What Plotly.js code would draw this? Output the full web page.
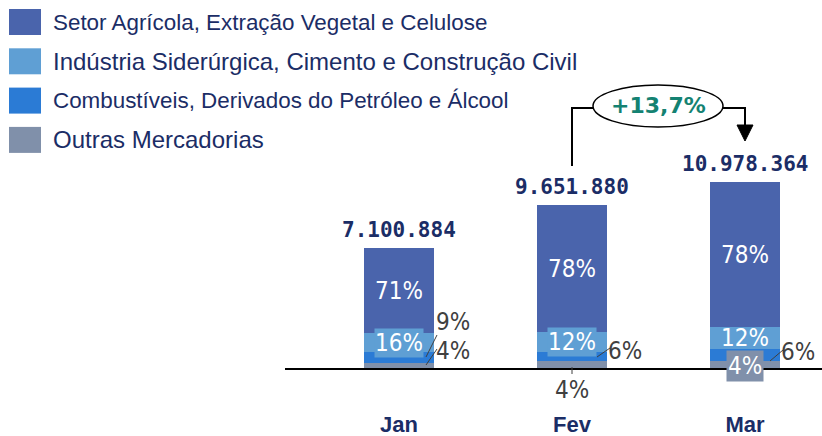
<!DOCTYPE html>
<html>
<head>
<meta charset="utf-8">
<script src="https://cdn.plot.ly/plotly-3.0.1.min.js"></script>
<style>html,body{margin:0;padding:0;background:#fff;}#chart{width:822px;height:436px;}</style>
</head>
<body>
<div id="chart"></div>
<script>
// ---- data ----
const categories = ['Jan', 'Fev', 'Mar'];
const totals = [7100884, 9651880, 10978364];
const totalLabels = ['7.100.884', '9.651.880', '10.978.364'];
const pctOutras = [4, 4, 4];
const pctCombustiveis = [9, 6, 6];
const pctIndustria = [16, 12, 12];
const pctAgricola = [71, 78, 78];
const seriesNames = [
  'Setor Agrícola, Extração Vegetal e Celulose',
  'Indústria Siderúrgica, Cimento e Construção Civil',
  'Combustíveis, Derivados do Petróleo e Álcool',
  'Outras Mercadorias'
];
const growthLabel = '+13,7%';

// ---- styles ----
const colors = {
  agro: '#4A64AC', ind: '#5F9FD4', comb: '#2B7BD5', outras: '#8090AA'
};
const navy = '#1B2D66';
const gray = '#404040';
const L = 285, W = 537, B = 368, H = 368; // plot area in px (top at 0)
const xp = px => (px - L) / W;
const yp = py => (B - py) / H;
const pxPerUnit = 16.9 / 1e6;

const seg = pct => totals.map((t, i) => t * pct[i] / 100);
const vOut = seg(pctOutras), vComb = seg(pctCombustiveis), vInd = seg(pctIndustria), vAgro = seg(pctAgricola);

const mkBar = (name, vals, color) => ({
  type: 'bar', x: categories, y: vals, name: name, width: 0.405,
  marker: {color: color, line: {width: 0}}, hoverinfo: 'skip', showlegend: false
});
const traces = [
  mkBar(seriesNames[3], vOut, colors.outras),
  mkBar(seriesNames[2], vComb, colors.comb),
  mkBar(seriesNames[1], vInd, colors.ind),
  mkBar(seriesNames[0], vAgro, colors.agro)
];

const pctFont = (c) => ({family: '"Liberation Sans Narrow", "DejaVu Sans Condensed", "Open Sans", sans-serif', size: 24, color: c});
const annotations = [];
const shapes = [];

// total labels
categories.forEach((c, i) => {
  annotations.push({x: c, y: totals[i], xref: 'x', yref: 'y', text: totalLabels[i],
    showarrow: false, yanchor: 'bottom', yshift: 4,
    font: {family: 'DejaVu Sans Mono, monospace', size: 21, color: navy, weight: 'bold'}});
  annotations.push({x: c, y: vOut[i] + vComb[i] + vInd[i] + vAgro[i] / 2, xref: 'x', yref: 'y',
    text: pctAgricola[i] + '%', showarrow: false, font: pctFont('#FFFFFF')});
  annotations.push({x: c, y: vOut[i] + vComb[i] + vInd[i] / 2, xref: 'x', yref: 'y',
    text: pctIndustria[i] + '%', showarrow: false, font: pctFont('#FFFFFF'),
    bgcolor: i < 2 ? colors.ind : 'rgba(0,0,0,0)', borderpad: 0});
});
annotations.push({x: categories[2], y: vOut[2] / 2, xref: 'x', yref: 'y', text: pctOutras[2] + '%',
  showarrow: false, font: pctFont('#FFFFFF'), bgcolor: colors.outras, borderpad: 1, yshift: -2});

// outside labels
const outside = [
  [453, 322, pctCombustiveis[0] + '%'], [453, 351, pctOutras[0] + '%'],
  [625, 351, pctCombustiveis[1] + '%'], [572, 390, pctOutras[1] + '%'],
  [798, 352, pctCombustiveis[2] + '%']
];
outside.forEach(o => annotations.push({x: xp(o[0]), y: yp(o[1]), xref: 'paper', yref: 'paper',
  text: o[2], showarrow: false, font: pctFont(gray), xanchor: 'center', yanchor: 'middle'}));
const leaders = [
  [426, 357, 437, 335], [426, 365, 437, 349], [597, 357, 610, 348], [572, 367, 572, 374], [770, 361, 783, 350]
];
leaders.forEach(l => shapes.push({type: 'line', xref: 'paper', yref: 'paper',
  x0: xp(l[0]), y0: yp(l[1]), x1: xp(l[2]), y1: yp(l[3]), line: {color: gray, width: 1}}));

// legend
const legColors = [colors.agro, colors.ind, colors.comb, colors.outras];
const legSizes = [22.4, 24, 22.4, 24];
seriesNames.forEach((n, i) => {
  const top = 9 + i * 39.3;
  shapes.push({type: 'rect', xref: 'paper', yref: 'paper', x0: xp(9), x1: xp(41),
    y0: yp(top), y1: yp(top + 26), fillcolor: legColors[i], line: {width: 0}});
  annotations.push({x: xp(51), y: yp(top + 13), xref: 'paper', yref: 'paper', text: n,
    showarrow: false, xanchor: 'left', yanchor: 'middle',
    font: {family: 'Liberation Sans, Arial, sans-serif', size: legSizes[i], color: navy}});
});

// growth connector
const pathPx = pts => pts.map((p, k) => (k ? 'L' : 'M') + xp(p[0]) + ',' + yp(p[1])).join(' ');
shapes.push({type: 'path', xref: 'paper', yref: 'paper', path: pathPx([[572, 166], [572, 108], [594, 108]]),
  line: {color: '#000', width: 2}});
shapes.push({type: 'path', xref: 'paper', yref: 'paper', path: pathPx([[722, 108], [745, 108], [745, 126]]),
  line: {color: '#000', width: 2}});
shapes.push({type: 'path', xref: 'paper', yref: 'paper', path: pathPx([[737, 125], [753, 125], [745, 141]]) + ' Z',
  fillcolor: '#000', line: {color: '#000', width: 1}});
shapes.push({type: 'circle', xref: 'paper', yref: 'paper', x0: xp(593), x1: xp(723), y0: yp(85), y1: yp(127),
  fillcolor: '#fff', line: {color: '#000', width: 1.5}});
annotations.push({x: xp(658), y: yp(106), xref: 'paper', yref: 'paper', text: growthLabel, showarrow: false,
  xanchor: 'center', yanchor: 'middle',
  font: {family: 'DejaVu Sans, sans-serif', size: 22, color: '#148272', weight: 'bold'}});

const layout = {
  width: 822, height: 436,
  margin: {l: L, r: 822 - L - W, t: B - H, b: 436 - B, pad: 0},
  paper_bgcolor: '#fff', plot_bgcolor: 'rgba(0,0,0,0)',
  barmode: 'stack', bargap: 0,
  showlegend: false,
  xaxis: {type: 'category', range: [-0.659, 2.445], showline: true, linecolor: '#000', linewidth: 1.5,
    ticks: '', showgrid: false, zeroline: false, ticklabelstandoff: 36,
    tickfont: {family: 'Liberation Sans, Arial, sans-serif', size: 22, color: navy, weight: 'bold'}},
  yaxis: {range: [0, H / pxPerUnit], visible: false, showgrid: false, zeroline: false},
  annotations: annotations,
  shapes: shapes
};

Plotly.newPlot('chart', traces, layout, {staticPlot: true, displayModeBar: false});
</script>
</body>
</html>
